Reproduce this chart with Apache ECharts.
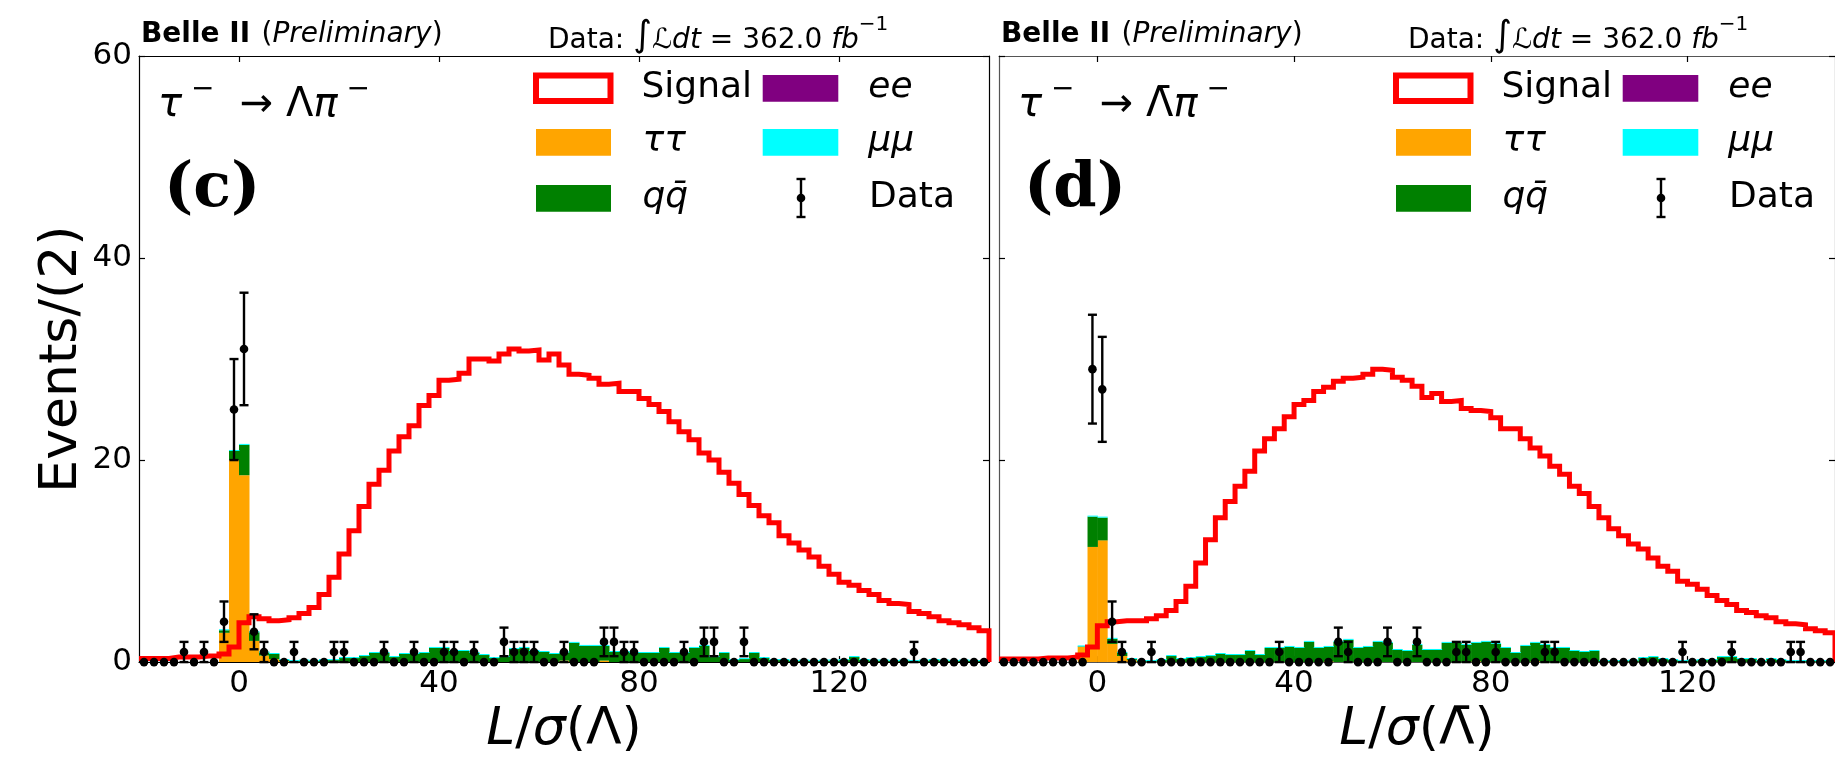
<!DOCTYPE html>
<html><head><meta charset="utf-8">
<script src="https://cdn.jsdelivr.net/npm/echarts@6/dist/echarts.min.js"></script>
<style>html,body{margin:0;padding:0;background:#fff}#c{width:1835px;height:761px}</style>
</head><body><div id="c"></div>
<script>
// ---- binning / ticks ----
const X_MIN = -20, X_MAX = 150, BIN_W = 2;
const xTicks = [0, 40, 80, 120];
const yTicks = [0, 20, 40, 60];

// ---- panel (c): tau -> Lambda pi ----
const signalC = [0.35,0.35,0.35,0.5,0.5,0.5,0.6,0.6,0.8,1.5,
  3.9,4.5,4.3,4.1,4.2,4.4,4.8,5.4,6.7,8.4,
  10.7,13.0,15.4,17.6,19.0,20.9,22.3,23.4,25.4,26.4,
  27.9,28.0,28.6,30.0,30.0,29.8,30.5,31.0,30.8,30.9,
  29.9,30.5,29.4,28.5,28.4,28.1,27.5,27.6,26.8,26.8,
  26.1,25.5,24.8,23.8,22.8,22.0,20.7,20.0,18.8,17.7,
  16.6,15.5,14.5,13.8,12.5,11.8,11.1,10.4,9.5,8.7,
  7.9,7.6,7.1,6.7,6.1,5.8,5.7,5.0,4.8,4.5,
  4.1,3.9,3.7,3.4,3.1];
const tautauC = [0,0,0,0,0,0,0,0,2.9,20.0,
  18.5,2.1,0.65,0.3,0.1,0,0,0,0,0,
  0,0,0,0,0,0,0,0,0,0,
  0,0,0,0,0,0,0,0,0,0,
  0,0,0.15,0,0,0,0.15,0,0,0,
  0,0,0,0,0,0,0,0,0,0,
  0,0,0,0,0,0,0,0,0,0,
  0,0,0,0,0,0,0,0,0,0,
  0,0,0,0,0];
const qqC = [0,0,0,0,0,0,0,0,0.25,0.9,
  3.0,0.85,0.3,0.5,0.1,0.1,0.15,0.1,0.2,0.2,
  0.4,0.4,0.6,0.9,0.9,0.5,0.8,0.8,0.9,1.4,
  1.4,1.1,1.1,0.9,0.7,0.4,0.5,1.3,1.4,1.1,
  1.0,0.8,0.8,1.9,1.6,1.6,1.45,1.0,1.0,0.9,
  0.9,0.9,1.4,0.9,0.9,1.4,1.6,0.5,0.9,0.2,
  0.3,0.9,0.4,0.2,0.2,0.1,0.15,0.1,0.15,0.15,
  0.2,0.5,0.2,0.15,0.15,0.1,0.15,0.1,0.15,0.2,
  0.15,0.1,0.15,0.1,0.1];
const eeC = [0,0,0,0,0,0,0,0,0,0, 0,0,0,0,0,0,0,0,0,0, 0,0,0,0,0,0,0,0,0,0,
  0,0,0,0,0,0,0,0,0,0, 0,0,0,0,0,0,0,0,0,0, 0,0,0,0,0,0,0,0,0,0,
  0,0,0,0,0,0,0,0,0,0, 0,0,0,0,0,0,0,0,0,0, 0,0,0,0,0];
const mumuC = [0,0,0,0,0,0,0,0,0.1,0.1, 0.1,0.1,0.1,0.1,0.1,0.1,0.1,0.1,0.1,0.1,
  0.1,0.1,0.1,0.1,0.1,0.1,0.1,0.1,0.1,0.1, 0.1,0.1,0.1,0.1,0.1,0.1,0.1,0.1,0.1,0.1,
  0.1,0.1,0.1,0.1,0.1,0.1,0.1,0.1,0.1,0.1, 0.1,0.1,0.1,0.1,0.1,0.1,0.1,0.1,0.1,0.1,
  0.1,0.1,0.1,0.1,0.1,0.1,0.1,0.1,0.1,0.1, 0.1,0.1,0.1,0.1,0.1,0.1,0.1,0.1,0.1,0.1,
  0.1,0.1,0.1,0.1,0.1];
const dataC = [0,0,0,0,1,0,1,0,4,25, 31,3,1,0,0,1,0,0,0,1, 1,0,0,0,1,0,0,1,0,0,
  1,1,0,1,0,0,2,1,1,1, 0,0,1,0,0,0,2,2,1,1, 0,0,0,0,1,0,2,2,0,0,
  2,0,0,0,0,0,0,0,0,0, 0,0,0,0,0,0,0,1,0,0, 0,0,0,0,0];

// ---- panel (d): tau -> anti-Lambda pi ----
const signalD = [0.3,0.3,0.3,0.3,0.4,0.4,0.4,0.5,0.7,1.5,
  3.6,4.0,4.1,4.1,4.1,4.3,4.6,5.1,6.0,7.5,
  9.8,12.1,14.3,15.9,17.4,18.9,20.9,22.1,23.1,24.3,
  25.5,25.9,26.8,27.2,27.8,28.1,28.2,28.5,29.0,28.9,
  28.2,27.9,27.3,26.2,26.6,25.8,25.9,25.1,24.9,24.8,
  24.2,23.1,23.1,22.1,21.2,20.4,19.4,18.6,17.4,16.7,
  15.4,14.3,13.2,12.5,11.7,11.2,10.3,9.5,9.0,8.0,
  7.7,7.2,6.6,6.1,5.7,5.1,4.9,4.6,4.4,4.0,
  3.8,3.7,3.3,3.1,2.9];
const tautauD = [0,0,0,0,0,0,0,0,1.5,11.4,
  12.05,1.8,0.6,0.2,0,0,0,0,0,0,
  0,0,0,0,0,0,0,0,0,0,
  0,0,0,0.1,0,0,0,0,0,0,
  0,0,0,0,0,0,0,0,0.1,0,
  0,0,0,0,0.1,0,0,0,0,0,
  0,0,0,0,0,0,0,0,0,0,
  0,0,0,0,0,0,0,0,0,0,
  0,0,0,0,0];
const qqD = [0,0,0,0,0,0,0,0,0.05,3.0,
  2.25,0.5,0.3,0.1,0.1,0.1,0.2,0.6,0.3,0.4,
  0.5,0.6,0.8,0.7,0.7,1.1,0.7,1.4,1.4,1.5,
  1.4,2.0,1.4,1.4,2.0,2.2,1.4,1.5,2.0,1.9,
  1.2,1.1,1.7,1.2,1.2,1.9,1.9,1.7,1.8,2.0,
  1.8,1.4,0.9,1.6,1.8,1.7,1.4,1.4,1.1,1.0,
  1.1,0.1,0.1,0.1,0.15,0.4,0.5,0.3,0.2,0.1,
  0.15,0.2,0.2,0.5,0.5,0.3,0.3,0.1,0.3,0.2,
  0.1,0.1,0.1,0.1,0.1];
const eeD = [0,0,0,0,0,0,0,0,0,0, 0,0,0,0,0,0,0,0,0,0, 0,0,0,0,0,0,0,0,0,0,
  0,0,0,0,0,0,0,0,0,0, 0,0,0,0,0,0,0,0,0,0, 0,0,0,0,0,0,0,0,0,0,
  0,0,0,0,0,0,0,0,0,0, 0,0,0,0,0,0,0,0,0,0, 0,0,0,0,0];
const mumuD = [0,0,0,0,0,0,0,0,0.1,0.1, 0.1,0.1,0.1,0.1,0.1,0.1,0.1,0.1,0.1,0.1,
  0.1,0.1,0.1,0.1,0.1,0.1,0.1,0.1,0.1,0.1, 0.1,0.1,0.1,0.1,0.1,0.1,0.1,0.1,0.1,0.1,
  0.1,0.1,0.1,0.1,0.1,0.1,0.1,0.1,0.1,0.1, 0.1,0.1,0.1,0.1,0.1,0.1,0.1,0.1,0.1,0.1,
  0.1,0.1,0.1,0.1,0.1,0.1,0.1,0.1,0.1,0.1, 0.1,0.1,0.1,0.1,0.1,0.1,0.1,0.1,0.1,0.1,
  0.1,0.1,0.1,0.1,0.1];
const dataD = [0,0,0,0,0,0,0,0,0,29, 27,4,1,0,0,1,0,0,0,0, 0,0,0,0,0,0,0,0,1,0,
  0,0,0,0,2,1,0,0,0,2, 0,0,2,0,0,0,1,1,0,0, 1,0,0,0,0,1,1,0,0,0,
  0,0,0,0,0,0,0,0,0,1, 0,0,0,0,1,0,0,0,0,0, 1,1,0,0,0];

// ---- styling ----
const FONT = 'DejaVu Sans';
const COLORS = { tautau: '#ffa500', qq: '#008000', ee: '#800080', mumu: '#00ffff', signal: '#ff0000' };

const chart = echarts.init(document.getElementById('c'), null, { renderer: 'canvas' });

const binLow = i => X_MIN + i * BIN_W;

function stackData(comps) {
  const n = comps[0].length;
  const base = new Array(n).fill(0);
  return comps.map(arr => arr.map((v, i) => {
    const b = base[i];
    base[i] += v;
    return [binLow(i), binLow(i) + BIN_W, b, b + v];
  }));
}

function rectSeries(data, color, xi, yi) {
  return {
    type: 'custom', xAxisIndex: xi, yAxisIndex: yi, data, z: 2, clip: true,
    renderItem: (params, api) => {
      const y0 = api.value(2), y1 = api.value(3);
      if (y1 - y0 <= 0) return null;
      const lo = api.coord([api.value(0), y0]);
      const hi = api.coord([api.value(1), y1]);
      return { type: 'rect', shape: { x: lo[0], y: hi[1], width: hi[0] - lo[0] + 0.5, height: lo[1] - hi[1] },
        style: { fill: color } };
    }
  };
}

function signalSeries(vals, xi, yi) {
  const pts = vals.map((v, i) => [binLow(i), v]);
  pts.push([X_MAX, vals[vals.length - 1]]);
  pts.push([X_MAX, 0]);
  return { type: 'line', xAxisIndex: xi, yAxisIndex: yi, data: pts, step: 'end', symbol: 'none', z: 5,
    lineStyle: { color: COLORS.signal, width: 5, join: 'miter' }, silent: true, animation: false };
}

function dataSeries(counts, xi, yi) {
  const d = counts.map((n, i) => [binLow(i) + BIN_W / 2, n, Math.sqrt(n)]);
  return {
    type: 'custom', xAxisIndex: xi, yAxisIndex: yi, data: d, z: 10, clip: false,
    renderItem: (params, api) => {
      const xc = api.value(0), n = api.value(1), e = api.value(2);
      const c = api.coord([xc, n]);
      const ch = [];
      if (e > 0) {
        const t = api.coord([xc, n + e]), b = api.coord([xc, n - e]);
        const ls = { stroke: '#000', lineWidth: 2.4 };
        ch.push({ type: 'line', shape: { x1: c[0], y1: t[1], x2: c[0], y2: b[1] }, style: ls });
        ch.push({ type: 'line', shape: { x1: c[0] - 4.5, y1: t[1], x2: c[0] + 4.5, y2: t[1] }, style: ls });
        ch.push({ type: 'line', shape: { x1: c[0] - 4.5, y1: b[1], x2: c[0] + 4.5, y2: b[1] }, style: ls });
      }
      ch.push({ type: 'circle', shape: { cx: c[0], cy: c[1], r: 4.3 }, style: { fill: '#000' } });
      return { type: 'group', children: ch };
    }
  };
}

function xAxes(gi, name, frame) {
  const common = {
    gridIndex: gi, type: 'value', min: X_MIN, max: X_MAX,
    axisLine: { show: true, onZero: false, lineStyle: { color: frame, width: 1.2 } },
    axisTick: { show: true, inside: true, length: 6, customValues: xTicks, lineStyle: { color: '#000', width: 1.2 } },
    splitLine: { show: false }
  };
  return [
    Object.assign({}, common, {
      position: 'bottom',
      axisLabel: { show: true, customValues: xTicks, fontSize: 31, fontFamily: FONT, color: '#000', margin: 6 },
      name: name, nameLocation: 'middle', nameGap: 36,
      nameTextStyle: { fontSize: 52, fontFamily: FONT, color: '#000',
        rich: { i: { fontStyle: 'italic', fontSize: 52, fontFamily: FONT }, n: { fontSize: 52, fontFamily: FONT } } }
    }),
    Object.assign({}, common, { position: 'top', axisLabel: { show: false } })
  ];
}

function yAxes(gi, showLabels, frame) {
  const common = {
    gridIndex: gi, type: 'value', min: 0, max: 60, interval: 20,
    axisLine: { show: true, onZero: false, lineStyle: { color: frame, width: 1.2 } },
    axisTick: { show: true, inside: true, length: 6, lineStyle: { color: '#000', width: 1.2 } },
    splitLine: { show: false }
  };
  const left = Object.assign({}, common, {
    position: 'left',
    axisLabel: { show: showLabels, fontSize: 31, fontFamily: FONT, color: '#000', margin: 7 }
  });
  if (showLabels) {
    Object.assign(left, { name: 'Events/(2)', nameLocation: 'middle', nameGap: 50, nameRotate: 90,
      nameTextStyle: { fontSize: 52, fontFamily: FONT, color: '#000' } });
  }
  return [left, Object.assign({}, common, { position: 'right', axisLabel: { show: false } })];
}

function panelSeries(tt, qq, ee, mm, sig, dat, xi, yi) {
  const st = stackData([tt, qq, ee, mm]);
  return [
    rectSeries(st[0], COLORS.tautau, xi, yi),
    rectSeries(st[1], COLORS.qq, xi, yi),
    rectSeries(st[2], COLORS.ee, xi, yi),
    rectSeries(st[3], COLORS.mumu, xi, yi),
    signalSeries(sig, xi, yi),
    dataSeries(dat, xi, yi)
  ];
}

function panelGraphics(ox, decay, letter) {
  const txt = (x, y, text, extra) => ({ type: 'text', x: x, y: y, z: 100,
    style: Object.assign({ text: text, fill: '#000', font: '36px "DejaVu Sans"', textAlign: 'left', textVerticalAlign: 'middle', align: 'left', verticalAlign: 'middle' }, extra || {}) });
  const rect = (x, y, w, h, style) => ({ type: 'rect', z: 100, shape: { x: x + ox, y: y, width: w, height: h }, style: style });
  const ls = { stroke: '#000', lineWidth: 2.4 };
  return [
    // header
    txt(141 + ox, 35, '{b|Belle II} {n|(}{i|Preliminary}{n|)}', {
      rich: { b: { fontWeight: 'bold', fontSize: 28, fontFamily: FONT }, n: { fontSize: 28, fontFamily: FONT },
              i: { fontStyle: 'italic', fontSize: 28, fontFamily: FONT } } }),
    txt(548 + ox, 35, '{n|Data: }{g|∫}{i|ℒdt}{n| = 362.0 }{i|fb}{s|−1}', {
      rich: { n: { fontSize: 28, fontFamily: FONT, lineHeight: 40, verticalAlign: 'bottom' },
              g: { fontSize: 36, fontFamily: FONT, lineHeight: 40, verticalAlign: 'bottom' },
              i: { fontStyle: 'italic', fontSize: 28, fontFamily: FONT, lineHeight: 40, verticalAlign: 'bottom' },
              s: { fontSize: 20, fontFamily: FONT, lineHeight: 20, verticalAlign: 'top' } } }),
    // decay annotation
    txt(158 + ox, 101, decay, {
      rich: { i: { fontStyle: 'italic', fontSize: 40, fontFamily: FONT, lineHeight: 50, verticalAlign: 'bottom' },
              n: { fontSize: 40, fontFamily: FONT, lineHeight: 50, verticalAlign: 'bottom' },
              s: { fontSize: 28, fontFamily: FONT, lineHeight: 28, verticalAlign: 'top' } } }),
    txt(164 + ox, 190, letter, { font: 'bold 62px "DejaVu Serif"' }),
    // legend
    rect(536, 75.5, 74.5, 25.5, { fill: 'none', stroke: COLORS.signal, lineWidth: 6 }),
    rect(536, 129, 75, 26.7, { fill: COLORS.tautau }),
    rect(536, 185, 75, 26.7, { fill: COLORS.qq }),
    rect(762.7, 75, 75.6, 26.7, { fill: COLORS.ee }),
    rect(762.7, 129, 75.6, 26.7, { fill: COLORS.mumu }),
    { type: 'line', z: 100, shape: { x1: 801 + ox, y1: 179, x2: 801 + ox, y2: 217 }, style: ls },
    { type: 'line', z: 100, shape: { x1: 796.5 + ox, y1: 179, x2: 805.5 + ox, y2: 179 }, style: ls },
    { type: 'line', z: 100, shape: { x1: 796.5 + ox, y1: 217, x2: 805.5 + ox, y2: 217 }, style: ls },
    { type: 'circle', z: 100, shape: { cx: 801 + ox, cy: 198, r: 4.3 }, style: { fill: '#000' } },
    txt(641.5 + ox, 88, 'Signal'),
    txt(642.5 + ox, 142, 'ττ', { font: 'italic 36px "DejaVu Sans"' }),
    txt(642.5 + ox, 198, 'qq\u0304', { font: 'italic 36px "DejaVu Sans"' }),
    txt(868.3 + ox, 88, 'ee', { font: 'italic 36px "DejaVu Sans"' }),
    txt(868.3 + ox, 142, 'μμ', { font: 'italic 36px "DejaVu Sans"' }),
    txt(869 + ox, 198, 'Data')
  ];
}

const option = {
  animation: false,
  backgroundColor: '#fff',
  grid: [
    { left: 139, top: 56, width: 850, height: 609 },
    { left: 999, top: 56, width: 850, height: 609 }
  ],
  xAxis: [].concat(
    xAxes(0, '{i|L}{n|/}{i|σ}{n|(Λ)}', '#000'),
    xAxes(1, '{i|L}{n|/}{i|σ}{n|(Λ\u0304)}', '#555')
  ),
  yAxis: [].concat(yAxes(0, true, '#000'), yAxes(1, false, '#555')),
  series: [].concat(
    panelSeries(tautauC, qqC, eeC, mumuC, signalC, dataC, 0, 0),
    panelSeries(tautauD, qqD, eeD, mumuD, signalD, dataD, 2, 2)
  ),
  graphic: [].concat(
    panelGraphics(0, '{i|τ}{s| −}{n|  → Λ}{i|π}{s| −}', '(c)'),
    panelGraphics(860, '{i|τ}{s| −}{n|  → Λ\u0304}{i|π}{s| −}', '(d)')
  )
};
chart.setOption(option);
</script></body></html>
